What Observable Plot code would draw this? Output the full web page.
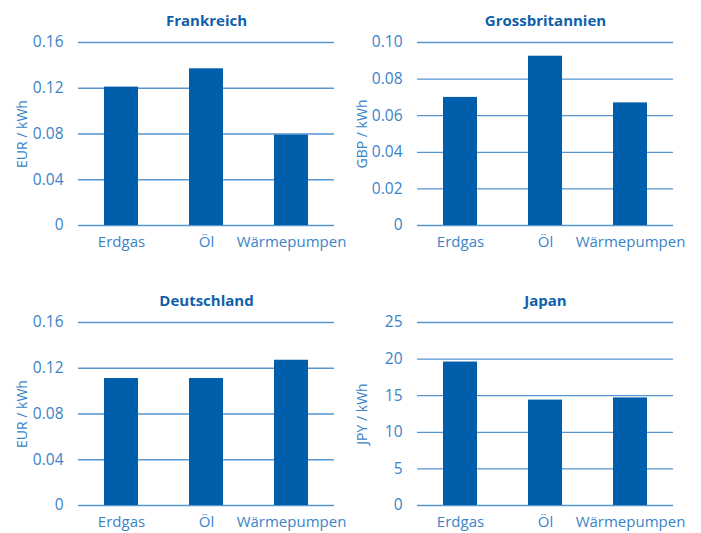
<!DOCTYPE html>
<html>
<head>
<meta charset="utf-8">
<script src="https://cdn.jsdelivr.net/npm/d3@7"></script>
<script src="https://cdn.jsdelivr.net/npm/@observablehq/plot@0.6"></script>
<style>
  html, body { margin: 0; padding: 0; background: #fff; overflow: hidden; }
  #wrap { position: relative; width: 701px; height: 533px; }
  .panel { position: absolute; }
</style>
</head>
<body>
<div id="wrap"></div>
<script>
const categories = ["Erdgas", "Öl", "Wärmepumpen"];
const frankreich = [0.121, 0.137, 0.079];
const grossbritannien = [0.070, 0.0925, 0.067];
const deutschland = [0.111, 0.111, 0.127];
const japan = [19.6, 14.4, 14.7];

const ticksEUR = [0, 0.04, 0.08, 0.12, 0.16];
const ticksGBP = [0, 0.02, 0.04, 0.06, 0.08, 0.10];
const ticksJPY = [0, 5, 10, 15, 20, 25];

const BAR = "#005eab";
const GRID = "#5596d2";
const TEXT = "#3a83c7";
const TITLE = "#0f5fac";
const FONT = "'Open Sans', sans-serif";

function fmt(d) { return d === 0 ? "0" : d.toFixed(2); }

function panel({title, values, ticks, domain, label, labelX, left, top, marginLeft, marginRight, width, format}) {
  const data = categories.map((c, i) => ({cat: c, v: values[i]}));
  const chart = Plot.plot({
    width, height: 253,
    marginTop: 42, marginBottom: 28, marginLeft, marginRight,
    style: {fontFamily: FONT, fontSize: "15px", color: TEXT, background: "transparent"},
    x: {domain: categories, paddingInner: 0.6, paddingOuter: 0.3, label: null},
    y: {domain, label: null},
    marks: [
      Plot.gridY(ticks, {stroke: GRID, strokeOpacity: 1, strokeWidth: 1.3}),
      Plot.barY(data, {x: "cat", y: "v", fill: BAR}),
      Plot.axisX({tickSize: 0, tickPadding: 11, fontSize: 15, color: TEXT, label: null}),
      Plot.axisY(ticks, {tickSize: 0, tickPadding: 15, fontSize: 15.5, color: TEXT, tickFormat: format, label: null}),
      Plot.text([label], {frameAnchor: "left", dx: -(marginLeft - labelX), rotate: -90, fontSize: 14, fill: TEXT, textAnchor: "middle", lineAnchor: "middle"}),
      Plot.text([title], {frameAnchor: "top", dy: -21, fontSize: 15, fontWeight: "bold", fill: TITLE, textAnchor: "middle", lineAnchor: "middle"})
    ]
  });
  const d = document.createElement("div");
  d.className = "panel";
  d.style.left = left + "px";
  d.style.top = top + "px";
  d.appendChild(chart);
  document.getElementById("wrap").appendChild(d);
}

panel({title: "Frankreich", values: frankreich, ticks: ticksEUR, domain: [0, 0.16], label: "EUR / kWh", labelX: 22,
  left: 0, top: 0, marginLeft: 78, marginRight: 16, width: 350, format: fmt});
panel({title: "Grossbritannien", values: grossbritannien, ticks: ticksGBP, domain: [0, 0.10], label: "GBP / kWh", labelX: 12,
  left: 350, top: 0, marginLeft: 67, marginRight: 28, width: 351, format: fmt});
panel({title: "Deutschland", values: deutschland, ticks: ticksEUR, domain: [0, 0.16], label: "EUR / kWh", labelX: 22,
  left: 0, top: 280, marginLeft: 78, marginRight: 16, width: 350, format: fmt});
panel({title: "Japan", values: japan, ticks: ticksJPY, domain: [0, 25], label: "JPY / kWh", labelX: 12,
  left: 350, top: 280, marginLeft: 67, marginRight: 28, width: 351, format: d => String(d)});
</script>
</body>
</html>
